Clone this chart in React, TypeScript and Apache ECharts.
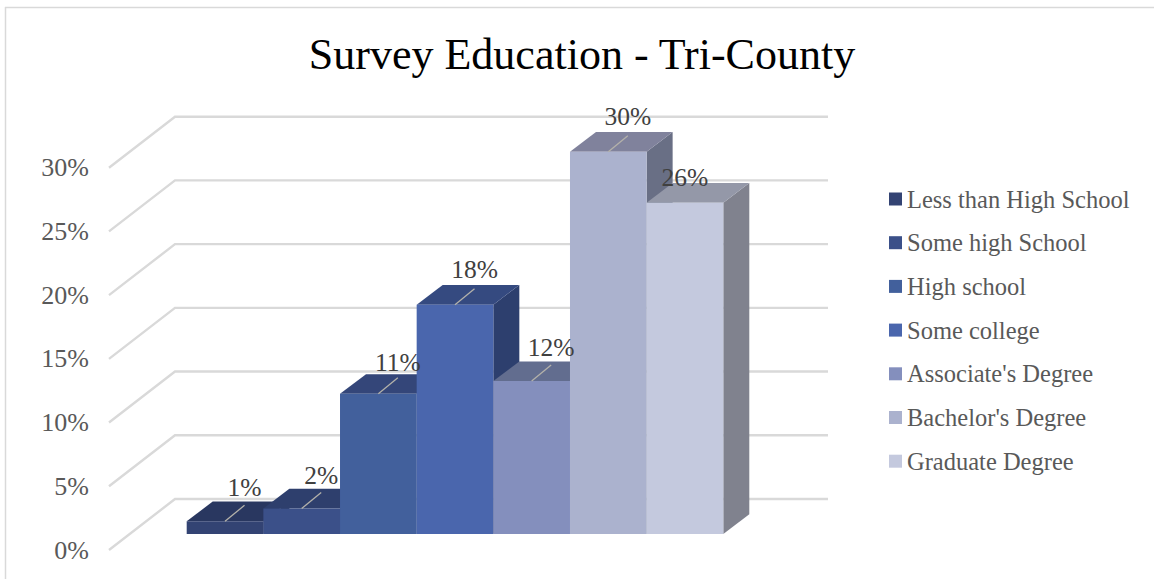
import React, { useEffect, useRef } from "react";
import * as echarts from "echarts";

const categories = ["Less than High School", "Some high School", "High school", "Some college", "Associate's Degree", "Bachelor's Degree", "Graduate Degree"];
const values = [1, 2, 11, 18, 12, 30, 26];
const ticks = [0, 5, 10, 15, 20, 25, 30];
const frontColors = ["#334373", "#3b5089", "#42609c", "#4a66ad", "#848fbd", "#abb2ce", "#c4c9de"];
const topColors = ["#293760", "#2e3f6d", "#344679", "#354a80", "#626d8f", "#80829c", "#9498a8"];
const sideColors = ["#232f52", "#27365e", "#2c3c68", "#2d3f6e", "#545d7a", "#696f85", "#80828e"];
const labelDx = [19.5, 19.5, 19.5, 19.5, 19.5, 19.5, 0];
const labelDy = [-34, -33, -31, -35, -34, -35.5, -25];

const FONT = "'Liberation Serif', serif";
const WALL_DX = 66;
const WALL_DY = -51;
const BAR_DX = 26;
const BAR_DY = -19.7;

export default function App() {
  const ref = useRef<HTMLDivElement>(null);
  useEffect(() => {
    const chart = echarts.init(ref.current!, undefined, { renderer: "svg" });
    const wallSeries = {
      type: "custom",
      xAxisIndex: 0,
      yAxisIndex: 0,
      silent: true,
      clip: false,
      data: ticks.map((t) => [0, t]),
      renderItem: (_p: any, api: any) => {
        const [x, y] = api.coord([0, api.value(1)]);
        const backRight = 828;
        return {
          type: "polyline",
          z2: 0,
          shape: { points: [[x, y], [x + WALL_DX, y + WALL_DY], [backRight, y + WALL_DY]] },
          style: { stroke: "#d9d9d9", lineWidth: 2.4, fill: "none" },
        };
      },
    };
    const barSeries = categories.map((name, i) => ({
      type: "custom",
      name,
      xAxisIndex: 1,
      yAxisIndex: 1,
      silent: true,
      clip: false,
      itemStyle: { color: frontColors[i] },
      data: [[name, values[i]]],
      renderItem: (_p: any, api: any) => {
        const [cx, top] = api.coord([i, api.value(1)]);
        const [, base] = api.coord([i, 0]);
        const w = api.size([1, 0])[0];
        const l = cx - w / 2;
        const r = cx + w / 2;
        const z2 = 10 + i;
        const children: any[] = [
          { type: "polygon", z2, shape: { points: [[r, top], [r + BAR_DX, top + BAR_DY], [r + BAR_DX, base + BAR_DY], [r, base]] }, style: { fill: sideColors[i] } },
          { type: "polygon", z2, shape: { points: [[l, top], [l + BAR_DX, top + BAR_DY], [r + BAR_DX, top + BAR_DY], [r, top]] }, style: { fill: topColors[i] } },
          { type: "rect", z2, shape: { x: l, y: top, width: w, height: base - top }, style: { fill: frontColors[i] } },
        ];
        if (labelDx[i] !== 0) {
          children.push({ type: "line", z2: 50, shape: { x1: cx, y1: top, x2: cx + 19.5, y2: top - 16 }, style: { stroke: "#b4b2aa", lineWidth: 1.3 } });
        }
        children.push({ type: "text", z2: 60, x: cx + labelDx[i], y: top + labelDy[i], style: { text: `${values[i]}%`, align: "center", verticalAlign: "middle", fill: "#404040", fontSize: 25.5, fontFamily: FONT } });
        return { type: "group", children };
      },
    }));
    chart.setOption({
      animation: false,
      backgroundColor: "#ffffff",
      title: {
        text: "Survey Education - Tri-County",
        left: 577,
        top: 27,
        textAlign: "center",
        textStyle: { fontFamily: FONT, fontSize: 44, fontWeight: "normal", color: "#000000" },
      },
      legend: {
        orient: "vertical",
        left: 884,
        top: 180.5,
        itemWidth: 13,
        itemHeight: 13,
        itemGap: 16.7,
        icon: "rect",
        data: categories,
        textStyle: { fontFamily: FONT, fontSize: 24.5, color: "#595959", lineHeight: 27 },
      },
      grid: [
        { left: 109, top: 167.7, width: 653, height: 382.3 },
        { left: 186.7, top: 151.8, width: 536.6, height: 382.2 },
      ],
      xAxis: [
        { type: "value", gridIndex: 0, min: 0, max: 1, show: false },
        { type: "category", gridIndex: 1, data: categories, show: false },
      ],
      yAxis: [
        {
          type: "value",
          gridIndex: 0,
          min: 0,
          max: 30,
          interval: 5,
          axisLine: { show: false },
          axisTick: { show: false },
          splitLine: { show: false },
          axisLabel: { formatter: "{value}%", margin: 20, fontFamily: FONT, fontSize: 26, color: "#595959" },
        },
        { type: "value", gridIndex: 1, min: 0, max: 30, interval: 5, show: false },
      ],
      graphic: [
        { type: "line", silent: true, shape: { x1: 5.5, y1: 7, x2: 5.5, y2: 579 }, style: { stroke: "#d9d9d9", lineWidth: 1.5 } },
        { type: "line", silent: true, shape: { x1: 5, y1: 7.5, x2: 1154, y2: 7.5 }, style: { stroke: "#d9d9d9", lineWidth: 1.5 } },
      ],
      series: [wallSeries, ...barSeries],
    });
    return () => chart.dispose();
  }, []);
  return <div ref={ref} style={{ position: "absolute", left: 0, top: 0, width: 1154, height: 579 }} />;
}
